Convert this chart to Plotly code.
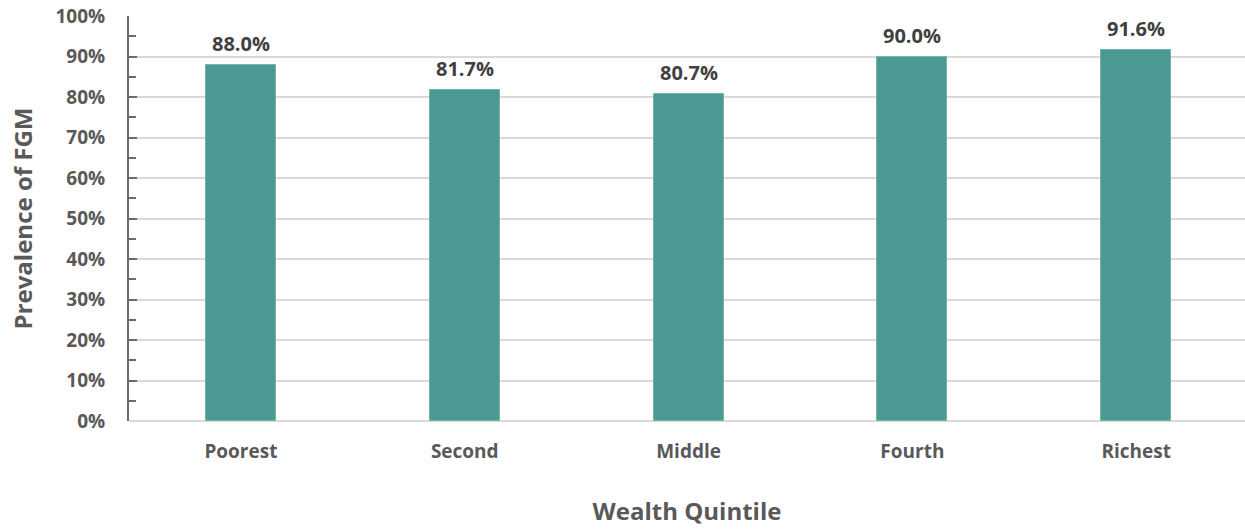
import plotly.graph_objects as go

categories = ["Poorest", "Second", "Middle", "Fourth", "Richest"]
prevalence = [0.880, 0.817, 0.807, 0.900, 0.916]
y_ticks = [0, 0.1, 0.2, 0.3, 0.4, 0.5, 0.6, 0.7, 0.8, 0.9, 1.0]

FONT = "Open Sans"
fig = go.Figure()
fig.add_trace(go.Bar(
    x=categories, y=prevalence, width=0.3125,
    marker=dict(color="#4a9a93", line=dict(color="#72b5ae", width=1)),
    hoverinfo="skip",
))
for c, v in zip(categories, prevalence):
    fig.add_annotation(x=c, y=v, text=f"{v*100:.1f}%", showarrow=False,
                       yanchor="bottom", yshift=6,
                       font=dict(family=FONT, size=20, color="#404040", weight="bold"))

fig.update_layout(
    width=1245, height=529,
    margin=dict(l=128.5, r=0, t=16, b=108),
    plot_bgcolor="white", paper_bgcolor="white",
    showlegend=False, bargap=0,
    font=dict(family=FONT, color="#595959", weight="bold"),
)
fig.update_xaxes(
    range=[-0.5, 4.486], showgrid=False, showline=False, zeroline=False,
    ticks="", tickfont=dict(family=FONT, size=19, color="#595959", weight="bold"),
    ticklabelstandoff=17,
    title=dict(text="Wealth Quintile", standoff=40,
               font=dict(family=FONT, size=24, color="#595959", weight="bold")),
)
fig.update_yaxes(
    range=[0, 1.0], tickvals=y_ticks, tickformat=".0%",
    ticklabeloverflow="allow",
    showgrid=True, gridcolor="#d9d9d9", gridwidth=1.5,
    zeroline=True, zerolinecolor="#d9d9d9", zerolinewidth=1.5,
    showline=True, linecolor="#6b6b6b", linewidth=2,
    ticks="inside", ticklen=8, tickwidth=1.5, tickcolor="#6b6b6b",
    minor=dict(ticks="inside", ticklen=7, tickwidth=1.5, tickcolor="#6b6b6b", dtick=0.05, showgrid=False),
    tickfont=dict(family=FONT, size=19, color="#595959", weight="bold"),
    ticklabelstandoff=18,
    title=dict(text="Prevalence of FGM", standoff=16,
               font=dict(family=FONT, size=24, color="#595959", weight="bold")),
)
fig.write_html("out.html", config={"displayModeBar": False},
               post_script="document.body.style.margin='0';")
